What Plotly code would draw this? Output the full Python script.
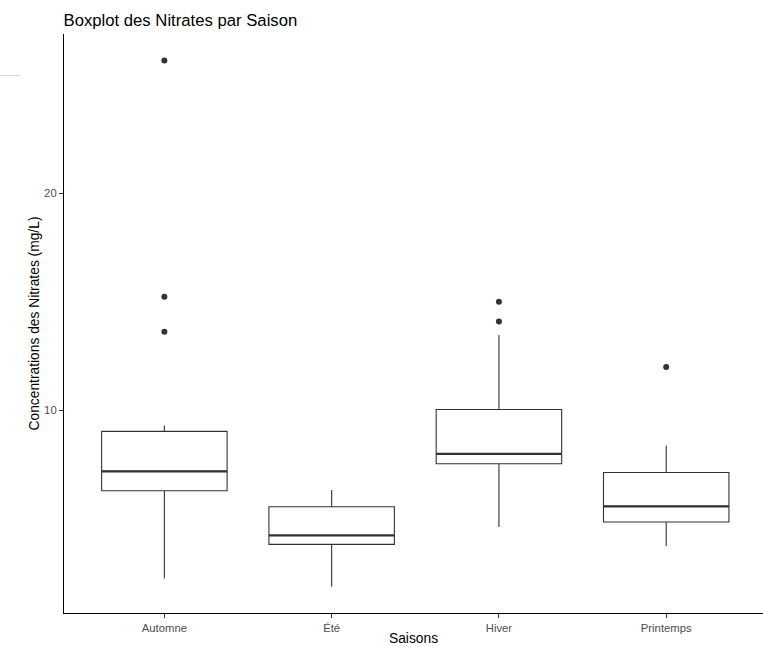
import plotly.graph_objects as go

# Data
saisons = ["Automne", "Été", "Hiver", "Printemps"]
q1 = [6.31, 3.84, 7.55, 4.87]
medianes = [7.20, 4.25, 8.00, 5.59]
q3 = [9.04, 5.57, 10.05, 7.15]
moustache_basse = [2.27, 1.89, 4.64, 3.76]
moustache_haute = [9.31, 6.34, 13.47, 8.39]
outlier_saison = ["Automne", "Automne", "Automne", "Hiver", "Hiver", "Printemps"]
outlier_valeur = [26.11, 15.24, 13.63, 15.01, 14.10, 12.00]
y_ticks = [10, 20]

FONT = "Liberation Sans, Arial, sans-serif"
DARK = "#333333"

fig = go.Figure()

fig.add_trace(go.Box(
    x=saisons, q1=q1, median=medianes, q3=q3,
    lowerfence=moustache_basse, upperfence=moustache_haute,
    width=0.75, whiskerwidth=0, fillcolor="white",
    line=dict(color=DARK, width=1.1),
    boxpoints=False, showlegend=False, hoverinfo="skip",
))
# thicker median line
fig.add_trace(go.Box(
    x=saisons, q1=medianes, median=medianes, q3=medianes,
    lowerfence=medianes, upperfence=medianes,
    width=0.75, whiskerwidth=0, fillcolor="rgba(0,0,0,0)",
    line=dict(color=DARK, width=2.2),
    boxpoints=False, showlegend=False, hoverinfo="skip",
))
fig.add_trace(go.Scatter(
    x=outlier_saison, y=outlier_valeur, mode="markers",
    marker=dict(color=DARK, size=6, line=dict(width=0)),
    showlegend=False, hoverinfo="skip",
))

L, T, B = 63.5, 34.3, 33.7
W, H = 763, 647
px_per_cat = 167.4
x_end = (W - L) / px_per_cat - 0.6

fig.update_layout(
    width=W, height=H,
    margin=dict(l=L, r=0, t=T, b=B, autoexpand=False),
    plot_bgcolor="white", paper_bgcolor="white",
    font=dict(family=FONT),
    boxmode="overlay",
    title=dict(text="Boxplot des Nitrates par Saison", x=L / W, xanchor="left",
               xref="container", y=1 - 20 / H, yanchor="middle",
               font=dict(size=16.7, color="black", family=FONT)),
    xaxis=dict(
        type="category", categoryorder="array", categoryarray=saisons,
        range=[-0.6, x_end],
        showline=True, linecolor="black", linewidth=1.1,
        ticks="outside", ticklen=4, tickcolor=DARK, tickwidth=1,
        tickfont=dict(size=11.3, color="#4D4D4D"),
        showgrid=False, zeroline=False,
        title=dict(text="Saisons", font=dict(size=13.8, color="black"), standoff=0),
        automargin=False,
    ),
    yaxis=dict(
        range=[0.68, 27.33], tickvals=y_ticks,
        showline=True, linecolor="black", linewidth=1.1,
        ticks="outside", ticklen=4, tickcolor=DARK, tickwidth=1,
        tickfont=dict(size=11.3, color="#4D4D4D"),
        showgrid=False, zeroline=False,
        title=dict(text="Concentrations des Nitrates (mg/L)",
                   font=dict(size=13.8, color="black"), standoff=1),
        automargin=False,
    ),
    shapes=[dict(type="line", xref="paper", yref="y",
                 x0=(0 - L) / (W - L), x1=(20 - L) / (W - L), y0=25.42, y1=25.42,
                 line=dict(color="#D9D9D9", width=1.2))],
)

fig.write_html("out.html", config={"displayModeBar": False},
               post_script="document.body.style.margin='0';")
